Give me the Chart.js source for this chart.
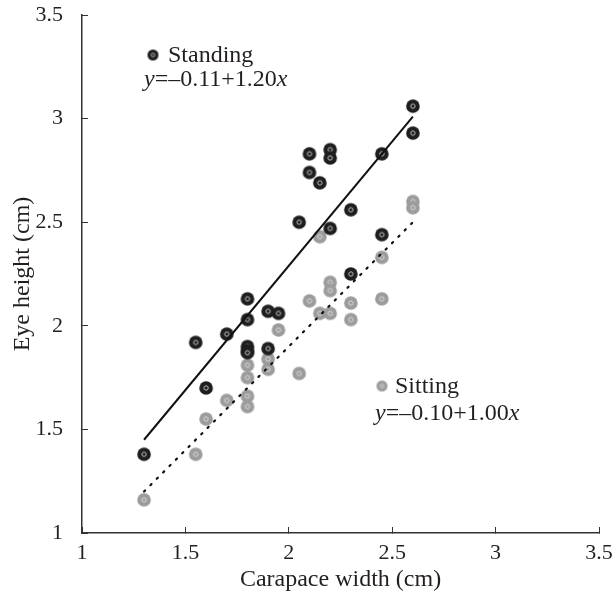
<!DOCTYPE html>
<html>
<head>
<meta charset="utf-8">
<title>Eye height vs carapace width</title>
<script src="https://cdn.jsdelivr.net/npm/chart.js@4.4.1/dist/chart.umd.min.js"></script>
<style>
  html, body { margin: 0; padding: 0; background: #fff; }
  #wrap { width: 615px; height: 594px; }
</style>
</head>
<body>
<div id="wrap"><canvas id="myChart" width="615" height="594"></canvas></div>
<script>
// values
const standingWidth = [1.3, 1.55, 1.6, 1.7, 1.8, 1.8, 1.8, 1.8, 1.8, 1.9, 1.95, 1.9, 2.05, 2.1, 2.1, 2.15, 2.2, 2.2, 2.2, 2.3, 2.3, 2.45, 2.45, 2.6, 2.6];
const standingEye   = [1.38, 1.92, 1.70, 1.96, 2.13, 2.03, 1.90, 1.88, 1.87, 2.07, 2.06, 1.89, 2.50, 2.83, 2.74, 2.69, 2.85, 2.81, 2.47, 2.56, 2.25, 2.83, 2.44, 3.06, 2.93];

const sittingWidth = [1.3, 1.55, 1.6, 1.7, 1.8, 1.8, 1.8, 1.8, 1.9, 1.9, 1.95, 2.05, 2.1, 2.15, 2.15, 2.2, 2.2, 2.2, 2.3, 2.3, 2.45, 2.45, 2.6, 2.6];
const sittingEye   = [1.16, 1.38, 1.55, 1.64, 1.81, 1.75, 1.66, 1.61, 1.84, 1.79, 1.98, 1.77, 2.12, 2.43, 2.06, 2.21, 2.17, 2.06, 2.11, 2.03, 2.33, 2.13, 2.60, 2.57];

// fitted lines, end points
const fitWidth    = [1.3, 2.6];
const standingFit = [1.45, 3.01];
const sittingFit  = [1.20, 2.50];

const xTickLabels = ['1', '1.5', '2', '2.5', '3', '3.5'];
const yTickLabels = ['1', '1.5', '2', '2.5', '3', '3.5'];

const standingLabel = 'Standing';
const standingEq = ['y', '=\u20130.11+1.20', 'x'];
const sittingLabel = 'Sitting';
const sittingEq = ['y', '=\u20130.10+1.00', 'x'];

const serif = '"Liberation Serif", "DejaVu Serif", serif';
const ink = '#231f20';

function makeMarker(fill, ring, r) {
  const c = document.createElement('canvas');
  const s = Math.ceil(r * 2 + 2);
  c.width = s; c.height = s;
  const g = c.getContext('2d');
  g.fillStyle = fill;
  g.beginPath(); g.arc(s / 2, s / 2, r, 0, Math.PI * 2); g.fill();
  g.strokeStyle = ring;
  g.lineWidth = 1;
  g.beginPath(); g.arc(s / 2, s / 2, r * 0.32, 0, Math.PI * 2); g.stroke();
  return c;
}

const blackDot = makeMarker('#1e1e1e', '#bdbdbd', 6.8);
const grayDot = makeMarker('#9c9c9c', '#d8d8d8', 6.8);
const blackKey = makeMarker('#1e1e1e', '#bdbdbd', 5.5);
const grayKey = makeMarker('#9c9c9c', '#d8d8d8', 5.5);

function pairs(xs, ys) {
  return xs.map(function (x, i) { return { x: x, y: ys[i] }; });
}

// fixed axis boxes, no label overhang padding
function fixBox(size) {
  return function (s) {
    if (s.isHorizontal()) s.height = size; else s.width = size;
    s.paddingTop = 0; s.paddingBottom = 0; s.paddingLeft = 0; s.paddingRight = 0;
  };
}

// the two keys with their equations
const keyPlugin = {
  id: 'keys',
  afterDraw: function (chart) {
    const ctx = chart.ctx;
    ctx.save();
    ctx.fillStyle = ink;
    ctx.textBaseline = 'alphabetic';
    function eq(parts, x, y) {
      ctx.font = 'italic 24px ' + serif;
      ctx.fillText(parts[0], x, y);
      x += ctx.measureText(parts[0]).width;
      ctx.font = '24px ' + serif;
      ctx.fillText(parts[1], x, y);
      x += ctx.measureText(parts[1]).width;
      ctx.font = 'italic 24px ' + serif;
      ctx.fillText(parts[2], x, y);
    }
    ctx.drawImage(blackKey, 153 - blackKey.width / 2, 55 - blackKey.height / 2);
    ctx.font = '24px ' + serif;
    ctx.fillText(standingLabel, 168, 62);
    eq(standingEq, 144, 86);

    ctx.drawImage(grayKey, 382 - grayKey.width / 2, 386 - grayKey.height / 2);
    ctx.font = '24px ' + serif;
    ctx.fillText(sittingLabel, 395, 393);
    eq(sittingEq, 375, 420);
    ctx.restore();
  }
};

const ctx = document.getElementById('myChart').getContext('2d');
const chart = new Chart(ctx, {
  type: 'scatter',
  data: {
    datasets: [
      {
        type: 'line',
        data: pairs(fitWidth, standingFit),
        borderColor: '#111',
        borderWidth: 2,
        pointRadius: 0,
        order: 0
      },
      {
        type: 'line',
        data: pairs(fitWidth, sittingFit),
        borderColor: '#111',
        borderWidth: 2.2,
        borderDash: [1.5, 7.5],
        borderCapStyle: 'round',
        pointRadius: 0,
        order: 0
      },
      {
        data: pairs(standingWidth, standingEye),
        pointStyle: blackDot,
        order: 1
      },
      {
        data: pairs(sittingWidth, sittingEye),
        pointStyle: grayDot,
        order: 2
      }
    ]
  },
  options: {
    responsive: false,
    animation: false,
    events: [],
    layout: { padding: { top: 15, right: 16, left: 0, bottom: 0 } },
    plugins: { legend: { display: false }, tooltip: { enabled: false } },
    scales: {
      x: {
        type: 'linear',
        min: 1, max: 3.5,
        afterFit: fixBox(61),
        border: { display: true, color: '#333', width: 1.5 },
        grid: { drawOnChartArea: false, drawTicks: true, tickLength: -6, color: '#333', lineWidth: 1 },
        ticks: {
          stepSize: 0.5,
          padding: 13,
          color: ink,
          font: { family: serif, size: 22 },
          maxRotation: 0,
          callback: function (v, i) { return xTickLabels[i]; }
        },
        title: {
          display: true,
          text: 'Carapace width (cm)',
          color: ink,
          font: { family: serif, size: 24 },
          padding: { top: 0, bottom: 0 }
        }
      },
      y: {
        type: 'linear',
        min: 1, max: 3.5,
        afterFit: fixBox(82),
        border: { display: true, color: '#333', width: 1.5 },
        grid: { drawOnChartArea: false, drawTicks: true, tickLength: -6, color: '#333', lineWidth: 1 },
        ticks: {
          stepSize: 0.5,
          padding: 25,
          color: ink,
          font: { family: serif, size: 22 },
          callback: function (v, i) { return yTickLabels[i]; }
        },
        title: {
          display: true,
          text: 'Eye height (cm)',
          color: ink,
          font: { family: serif, size: 24 },
          padding: { top: 8, bottom: 0 }
        }
      }
    }
  },
  plugins: [keyPlugin]
});
</script>
</body>
</html>
